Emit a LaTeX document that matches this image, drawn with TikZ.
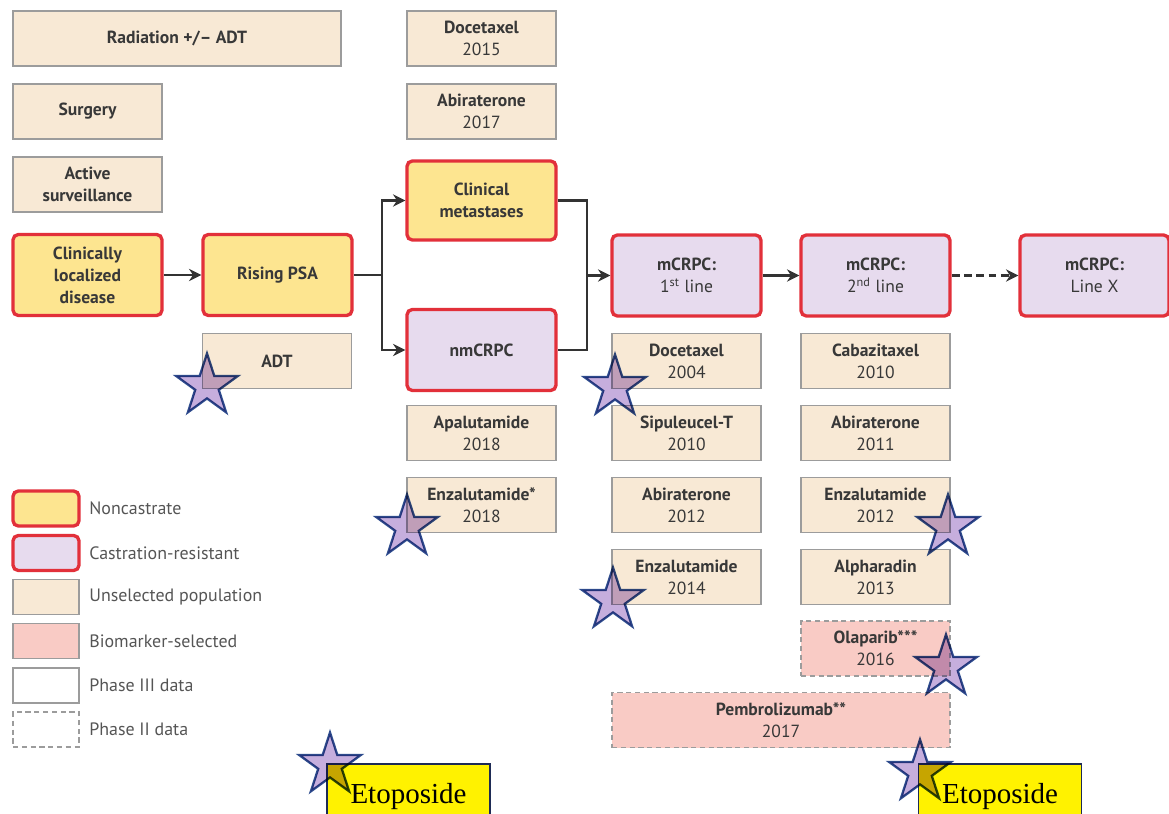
\documentclass[tikz,border=0pt]{standalone}
\usepackage{fontspec}
\setmainfont{PT Sans}
\newfontfamily\etofont{Liberation Serif}
\usetikzlibrary{arrows.meta,shapes.geometric}

\definecolor{beige}{HTML}{F8E9D5}
\definecolor{ncyellow}{HTML}{FDE590}
\definecolor{crlilac}{HTML}{E7DBEE}
\definecolor{bmpink}{HTML}{F9CBC5}
\definecolor{stagered}{HTML}{E2303A}
\definecolor{boxgray}{HTML}{9C9C9C}
\definecolor{txtgray}{HTML}{383838}
\definecolor{legendgray}{HTML}{555555}
\definecolor{arrowgray}{HTML}{333333}
\definecolor{starblue}{HTML}{2F4D8E}
\definecolor{starlilac}{HTML}{C6AEDD}
\definecolor{etonavy}{HTML}{1E2B55}

\newcommand{\drug}[2]{{\bfseries #1}\\#2}

\tikzset{
  x=0.02cm, y=-0.02cm,
  every node/.style={text=txtgray, font=\fontsize{10}{12.5}\selectfont},
  drugbox/.style={rectangle, draw=boxgray, line width=0.9pt, fill=beige,
    minimum width=2.98cm, minimum height=1.1cm, inner sep=0pt, align=center},
  stagebox/.style={rectangle, draw=stagered, line width=1.9pt, rounded corners=3pt,
    minimum width=2.98cm, minimum height=1.62cm, inner sep=0pt, align=center},
  noncastrate/.style={stagebox, fill=ncyellow, font=\fontsize{10}{12.5}\selectfont\bfseries},
  resistant/.style={stagebox, fill=crlilac},
  biomarker/.style={drugbox, fill=bmpink, dash pattern=on 3pt off 2pt},
  legendbox/.style={rectangle, draw=boxgray, line width=0.9pt, minimum width=1.32cm,
    minimum height=0.7cm, inner sep=0pt},
  legendtext/.style={anchor=west, text=legendgray, inner sep=0pt,
    font=\fontsize{10.2}{12}\selectfont},
  link/.style={line width=1.3pt, draw=arrowgray},
  flow/.style={link, -{Stealth[length=7pt,width=7pt]}},
  markstar/.style={star, star points=5, star point ratio=2.618, minimum size=1.3cm,
    inner sep=0pt, draw=starblue, line width=1.3pt, fill=starlilac},
  etobox/.style={rectangle, draw=etonavy, line width=0.9pt, fill=yellow, anchor=north,
    minimum width=3.26cm, inner xsep=0pt, inner ysep=0.4cm, text=black,
    font=\etofont\fontsize{16.5}{18}\selectfont}
}

\begin{document}
\begin{tikzpicture}

\useasboundingbox (0,0) rectangle (1169,814);

% Localized disease and its treatments
\node[drugbox, minimum width=6.56cm] (rad) at (177,38.5) {\bfseries Radiation +/-- ADT};
\node[drugbox] (surg) at (87.5,111.5) {\bfseries Surgery};
\node[drugbox] (activ) at (87.5,184.5) {\bfseries Active\\\bfseries surveillance};
\node[noncastrate] (clin) at (87.5,275) {Clinically\\localized\\disease};

% Rising PSA
\node[noncastrate] (psa) at (277.5,275) {Rising PSA};
\node[drugbox] (adt) at (277,361) {\bfseries ADT};

% Metastatic and non-metastatic branches
\node[drugbox] (doc15) at (481.5,38.5) {\drug{Docetaxel}{2015}};
\node[drugbox] (abi17) at (481.5,111.5) {\drug{Abiraterone}{2017}};
\node[noncastrate, minimum height=1.58cm] (met) at (481.5,200.5) {Clinical\\metastases};
\node[resistant] (nm) at (481.5,350) {\bfseries nmCRPC};
\node[drugbox] (apa) at (481.5,433) {\drug{Apalutamide}{2018}};
\node[drugbox] (enz18) at (481.5,505) {\drug{Enzalutamide*}{2018}};

% mCRPC first line
\node[resistant] (first) at (686.5,275.5) {\bfseries mCRPC:\\1\textsuperscript{st} line};
\node[drugbox] (doc04) at (686.5,361) {\drug{Docetaxel}{2004}};
\node[drugbox] (sip) at (686.5,433) {\drug{Sipuleucel-T}{2010}};
\node[drugbox] (abi12) at (686.5,505) {\drug{Abiraterone}{2012}};
\node[drugbox] (enz14) at (686.5,577) {\drug{Enzalutamide}{2014}};

% mCRPC second line
\node[resistant] (second) at (875.5,275.5) {\bfseries mCRPC:\\2\textsuperscript{nd} line};
\node[drugbox] (cab) at (875.5,361) {\drug{Cabazitaxel}{2010}};
\node[drugbox] (abi11) at (875.5,433) {\drug{Abiraterone}{2011}};
\node[drugbox] (enz12) at (875.5,505) {\drug{Enzalutamide}{2012}};
\node[drugbox] (alpha) at (875.5,577) {\drug{Alpharadin}{2013}};
\node[biomarker] (ola) at (875.5,648.5) {\drug{Olaparib***}{2016}};
\node[biomarker, minimum width=6.76cm] (pem) at (781,720) {\drug{Pembrolizumab**}{2017}};

% mCRPC later lines
\node[resistant] (linex) at (1094.5,275.5) {\bfseries mCRPC:\\Line X};

% Connectors
\draw[flow] (clin) -- (psa);
\draw[link] (psa.east) -- ++(28,0) coordinate (split);
\draw[flow] (split) |- (met.west);
\draw[flow] (split) |- (nm.west);
\draw[link] (met.east) -- ++(29,0) coordinate (merge) |- (nm.east);
\draw[flow] (merge |- first.west) -- (first.west);
\draw[flow] (first) -- (second);
\draw[flow, dash pattern=on 4.5pt off 2.5pt] (second) -- (linex);

% Legend
\node[legendbox, noncastrate, minimum width=1.32cm, minimum height=0.7cm] (lnc) at (46,508.5) {};
\node[legendbox, resistant, minimum width=1.32cm, minimum height=0.7cm] (lcr) at (46,553) {};
\node[legendbox, fill=beige] (lun) at (46,597) {};
\node[legendbox, fill=bmpink] (lbm) at (46,641) {};
\node[legendbox] (lp3) at (46,685.5) {};
\node[legendbox, dash pattern=on 3pt off 2pt] (lp2) at (46,729.5) {};
\node[legendtext] at (89,508.5) {Noncastrate};
\node[legendtext] at (89,553) {Castration-resistant};
\node[legendtext] at (89,597) {Unselected population};
\node[legendtext] at (89,641) {Biomarker-selected};
\node[legendtext] at (89,685.5) {Phase III data};
\node[legendtext] at (89,729.5) {Phase II data};

% Etoposide labels
\node[etobox] (eto1) at (408.5,763) {Etoposide};
\node[etobox] (eto2) at (1000,763) {Etoposide};

% Stars on top
\begin{scope}[blend mode=multiply]
  \node[markstar] (s1) at (207,386) {};
  \node[markstar] (s2) at (407,527) {};
  \node[markstar] (s3) at (615,387) {};
  \node[markstar] (s4) at (613,600) {};
  \node[markstar] (s5) at (948,527) {};
  \node[markstar] (s6) at (946,667) {};
  \node[markstar] (s7) at (330,765) {};
  \node[markstar] (s8) at (920,772) {};
\end{scope}

\end{tikzpicture}
\end{document}
